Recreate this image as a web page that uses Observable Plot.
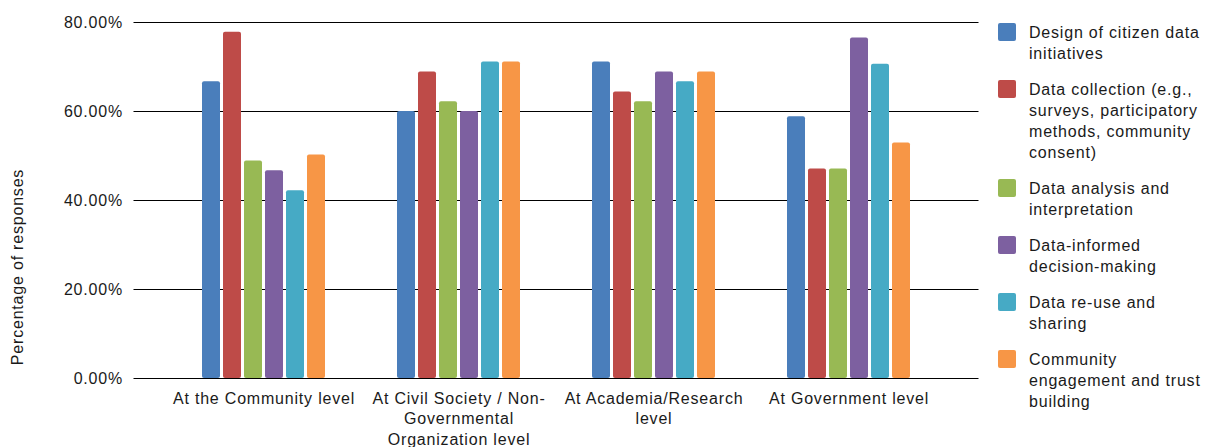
<!DOCTYPE html>
<html><head><meta charset="utf-8">
<script src="https://cdn.jsdelivr.net/npm/d3@7"></script>
<script src="https://cdn.jsdelivr.net/npm/@observablehq/plot@0.6"></script>
<style>
body{margin:0;background:#fff;font-family:"Liberation Sans",Arial,sans-serif;}
#wrap{position:relative;width:1210px;height:447px;overflow:hidden;background:#fff;}
#chart{position:absolute;left:0;top:0;}
#ylabel{position:absolute;left:18px;top:267px;transform:translate(-50%,-50%) rotate(-90deg);font-size:16px;letter-spacing:0.8px;color:#1a1a1a;white-space:nowrap;}
#legend{position:absolute;left:998px;top:23px;}
.item{position:relative;margin-bottom:15px;}
.sw{position:absolute;left:0;top:0;width:18px;height:18px;border-radius:2px;}
.lt{margin-left:31px;position:relative;top:-1px;font-size:16px;line-height:21px;letter-spacing:0.8px;white-space:pre;color:#1a1a1a;}
</style></head>
<body>
<div id="wrap"><div id="chart"></div><div id="ylabel"></div><div id="legend"></div></div>
<script>
const groups = ["At the Community level","At Civil Society / Non-Governmental Organization level","At Academia/Research level","At Government level"];
const groupTickLabels = ["At the Community level","At Civil Society / Non-\nGovernmental\nOrganization level","At Academia/Research\nlevel","At Government level"];
const series = ["Design of citizen data initiatives","Data collection (e.g., surveys, participatory methods, community consent)","Data analysis and interpretation","Data-informed decision-making","Data re-use and sharing","Community engagement and trust building"];
const legendLabels = ["Design of citizen data\ninitiatives","Data collection (e.g.,\nsurveys, participatory\nmethods, community\nconsent)","Data analysis and\ninterpretation","Data-informed\ndecision-making","Data re-use and\nsharing","Community\nengagement and trust\nbuilding"];
const colors = ["#4a7ebb","#be4b48","#98b954","#7d60a0","#46aac5","#f79646"];
const designValues = [66.7, 60.0, 71.1, 58.8];
const collectionValues = [77.8, 68.9, 64.4, 47.1];
const analysisValues = [48.9, 62.2, 62.2, 47.1];
const decisionValues = [46.7, 60.0, 68.9, 76.5];
const reuseValues = [42.2, 71.1, 66.7, 70.6];
const engagementValues = [50.2, 71.1, 68.9, 52.9];
const yTicks = [0, 20, 40, 60, 80];
const yLabel = "Percentage of responses";

const seriesValues = [designValues, collectionValues, analysisValues, decisionValues, reuseValues, engagementValues];
const rows = series.flatMap((s, i) => groups.map((g, j) => ({group: g, series: s, value: seriesValues[i][j]})));

const chart = Plot.plot({
  width: 980, height: 447,
  marginLeft: 133, marginRight: 2, marginTop: 22, marginBottom: 69,
  style: {fontFamily: "Liberation Sans, Arial, sans-serif", fontSize: "16px", letterSpacing: "0.8px", color: "#1a1a1a", background: "transparent"},
  fx: {domain: groups, paddingInner: 0, paddingOuter: 1/6, axis: null, label: null},
  x: {domain: series, paddingInner: 0.143, paddingOuter: 1.714, axis: null},
  y: {domain: [0, 80], axis: null},
  color: {domain: series, range: colors},
  marks: [
    Plot.ruleY(yTicks, {stroke: "#000", strokeWidth: 1, insetLeft: -32.5, insetRight: -32.5}),
    Plot.barY(rows, {fx: "group", x: "series", y: "value", fill: "series", rx: 2}),
    Plot.axisY({ticks: yTicks, tickFormat: d => d.toFixed(2) + "%", tickSize: 0, tickPadding: 43.5, label: null, fontSize: 16}),
    Plot.axisFx({anchor: "bottom", tickSize: 0, tickPadding: 10.5, tickFormat: g => groupTickLabels[groups.indexOf(g)], lineHeight: 1.28, label: null, fontSize: 16})
  ]
});
document.getElementById("chart").appendChild(chart);
document.getElementById("ylabel").textContent = yLabel;
const legend = document.getElementById("legend");
series.forEach((s, i) => {
  const item = document.createElement("div");
  item.className = "item";
  const sw = document.createElement("div");
  sw.className = "sw";
  sw.style.background = colors[i];
  const lt = document.createElement("div");
  lt.className = "lt";
  lt.textContent = legendLabels[i];
  item.appendChild(sw); item.appendChild(lt);
  legend.appendChild(item);
});
</script>
</body></html>
